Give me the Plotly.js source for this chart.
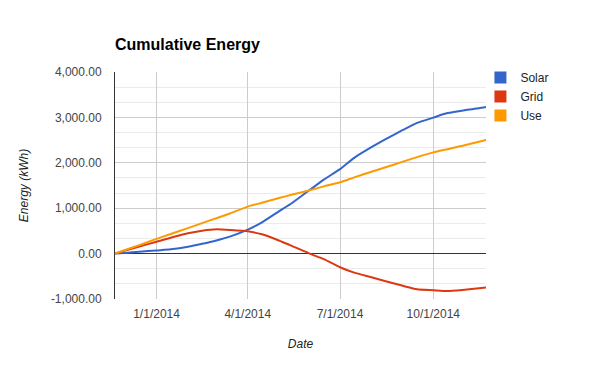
<!DOCTYPE html>
<html>
<head>
<meta charset="utf-8">
<script src="https://cdn.plot.ly/plotly-3.0.1.min.js"></script>
<style>html,body{margin:0;padding:0;background:#fff}#chart{width:600px;height:371px}</style>
</head>
<body>
<div id="chart"></div>
<script>
const dates = ["2013-11-21","2013-12-01","2013-12-15","2014-01-01","2014-01-15","2014-02-01","2014-02-15","2014-03-01","2014-03-15","2014-04-01","2014-04-15","2014-05-01","2014-05-15","2014-06-01","2014-06-15","2014-07-01","2014-07-15","2014-08-01","2014-08-15","2014-09-01","2014-09-15","2014-10-01","2014-10-15","2014-11-01","2014-11-15","2014-11-22"];
const solar = [0, 15, 40, 70, 95, 150, 215, 290, 380, 530, 690, 920, 1120, 1400, 1630, 1860, 2110, 2343, 2521, 2723, 2880, 2995, 3095, 3160, 3200, 3228];
const grid = [0, 65, 155, 262, 350, 450, 505, 535, 520, 490, 425, 295, 165, 0, -120, -300, -420, -520, -610, -710, -785, -807, -825, -795, -765, -747];
const use = [0, 78, 187, 325, 432, 562, 672, 780, 890, 1035, 1120, 1220, 1300, 1395, 1480, 1570, 1680, 1802, 1902, 2025, 2125, 2230, 2300, 2385, 2465, 2505];
const seriesNames = ["Solar", "Grid", "Use"];
const seriesColors = ["#3366cc", "#dc3912", "#ff9900"];
const yTicks = [-1000, 0, 1000, 2000, 3000, 4000];
const yTickText = ["-1,000.00", "0.00", "1,000.00", "2,000.00", "3,000.00", "4,000.00"];

const font = "Arial, 'Liberation Sans', sans-serif";
const values = [solar, grid, use];
const traces = [];
values.forEach((v, i) => {
  traces.push({x: dates, y: v, type: "scatter", mode: "lines", name: seriesNames[i],
    line: {color: seriesColors[i], width: 2, shape: "spline", smoothing: 0.6}, showlegend: false, hoverinfo: "x+y+name"});
});
values.forEach((v, i) => {
  traces.push({x: [null], y: [null], type: "scatter", mode: "markers", name: seriesNames[i],
    marker: {color: seriesColors[i], symbol: "square", size: 12}, showlegend: true});
});

const layout = {
  width: 600, height: 371,
  margin: {l: 115, r: 114, t: 72, b: 72},
  paper_bgcolor: "#fff", plot_bgcolor: "#fff",
  font: {family: font, size: 12, color: "#444"},
  title: {text: "Cumulative Energy", font: {family: font, size: 16, color: "#000", weight: "bold"},
    xref: "paper", x: 0, xanchor: "left", yref: "container", y: 1 - 44/371, yanchor: "middle"},
  xaxis: {type: "date", range: ["2013-11-21", "2014-11-22"], tick0: "2014-01-01", dtick: "M3",
    tickformat: "%-m/%-d/%Y", showgrid: true, gridcolor: "#cccccc", gridwidth: 1,
    zeroline: false, showline: false, ticks: "", ticklen: 0, ticklabelstandoff: 6,
    tickfont: {family: font, size: 12, color: "#444"},
    title: {text: "Date", font: {family: font, size: 12, color: "#222", style: "italic"}, standoff: 19}},
  yaxis: {range: [-1000, 4000], tickvals: yTicks, ticktext: yTickText, showgrid: true,
    gridcolor: "#cccccc", gridwidth: 1, zeroline: true, zerolinecolor: "#333", zerolinewidth: 1,
    showline: true, linecolor: "#333", linewidth: 1, ticks: "", ticklen: 0, ticklabelstandoff: 10,
    minor: {dtick: 1000/3, tick0: 0, showgrid: true, gridcolor: "#ebebeb", gridwidth: 1},
    tickfont: {family: font, size: 12, color: "#444"},
    title: {text: "Energy (kWh)", font: {family: font, size: 12, color: "#222", style: "italic"}, standoff: 19}},
  legend: {x: 0.985, xanchor: "left", y: 1.04, yanchor: "top", font: {family: font, size: 12, color: "#222"},
    itemwidth: 30, tracegroupgap: 0, bgcolor: "rgba(0,0,0,0)"},
  showlegend: true
};
Plotly.newPlot("chart", traces, layout, {displayModeBar: false, staticPlot: true});
</script>
</body>
</html>
